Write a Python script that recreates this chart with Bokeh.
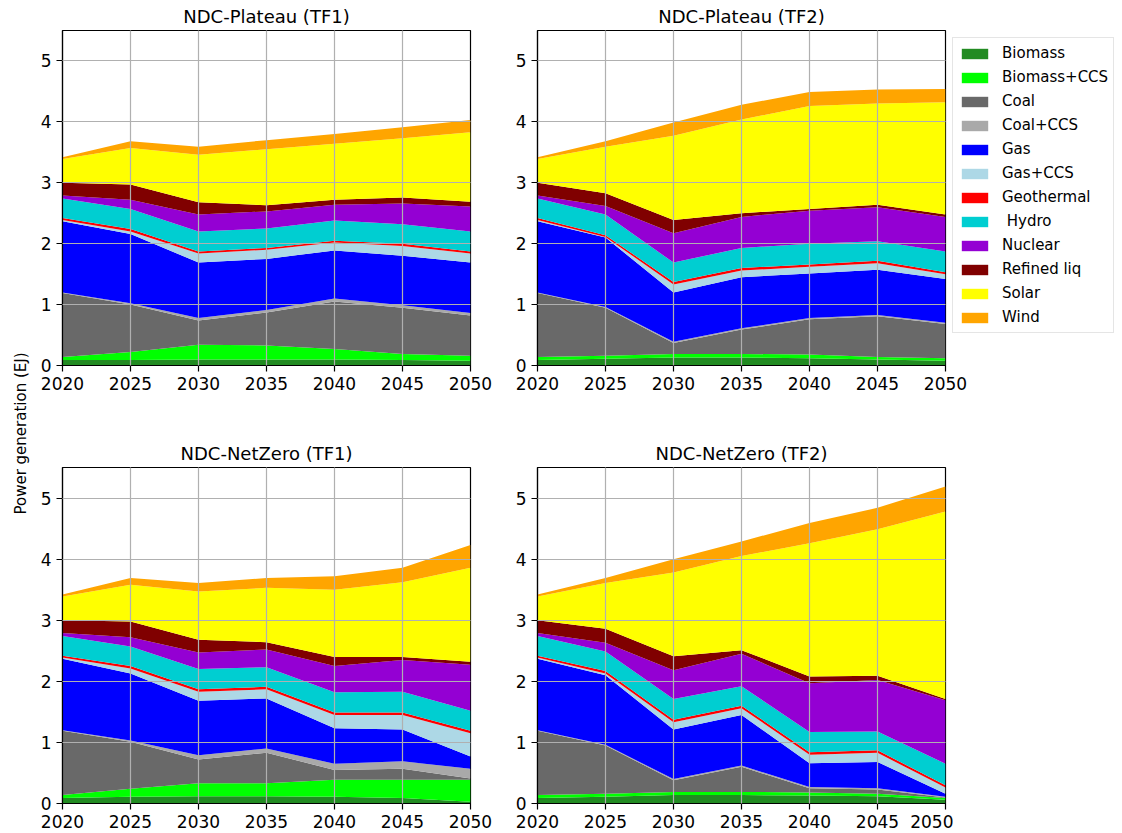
import numpy as np
from bokeh.plotting import figure
from bokeh.layouts import row, column
from bokeh.models import Range1d, Legend, LegendItem, Label
from bokeh.embed import file_html
from bokeh.resources import INLINE

# ---------------- data ----------------
years = [2020, 2025, 2030, 2035, 2040, 2045, 2050]
techs = ["Biomass", "Biomass+CCS", "Coal", "Coal+CCS", "Gas", "Gas+CCS",
         "Geothermal", " Hydro", "Nuclear", "Refined liq", "Solar", "Wind"]
titles = ["NDC-Plateau (TF1)", "NDC-Plateau (TF2)", "NDC-NetZero (TF1)", "NDC-NetZero (TF2)"]

# NDC-Plateau (TF1)
pt1_biomass = [0.09, 0.09, 0.10, 0.10, 0.10, 0.09, 0.08]
pt1_biomass_ccs = [0.05, 0.13, 0.24, 0.23, 0.17, 0.10, 0.08]
pt1_coal = [1.05, 0.78, 0.40, 0.54, 0.78, 0.76, 0.66]
pt1_coal_ccs = [0.01, 0.02, 0.04, 0.04, 0.05, 0.04, 0.04]
pt1_gas = [1.17, 1.14, 0.91, 0.84, 0.79, 0.81, 0.83]
pt1_gas_ccs = [0.02, 0.04, 0.15, 0.15, 0.13, 0.16, 0.15]
pt1_geothermal = [0.03, 0.04, 0.03, 0.03, 0.03, 0.04, 0.03]
pt1_hydro = [0.32, 0.33, 0.33, 0.32, 0.33, 0.32, 0.33]
pt1_nuclear = [0.05, 0.15, 0.28, 0.28, 0.26, 0.34, 0.41]
pt1_refined = [0.21, 0.25, 0.20, 0.10, 0.08, 0.10, 0.08]
pt1_solar = [0.39, 0.60, 0.78, 0.92, 0.92, 0.97, 1.14]
pt1_wind = [0.03, 0.11, 0.13, 0.15, 0.16, 0.18, 0.20]

# NDC-Plateau (TF2)
pt2_biomass = [0.09, 0.11, 0.13, 0.13, 0.12, 0.10, 0.08]
pt2_biomass_ccs = [0.05, 0.05, 0.06, 0.06, 0.06, 0.04, 0.04]
pt2_coal = [1.05, 0.79, 0.18, 0.40, 0.58, 0.67, 0.56]
pt2_coal_ccs = [0.01, 0.01, 0.02, 0.02, 0.02, 0.02, 0.02]
pt2_gas = [1.17, 1.14, 0.81, 0.84, 0.73, 0.74, 0.72]
pt2_gas_ccs = [0.02, 0.01, 0.13, 0.11, 0.11, 0.11, 0.08]
pt2_geothermal = [0.03, 0.03, 0.04, 0.04, 0.04, 0.04, 0.03]
pt2_hydro = [0.32, 0.34, 0.32, 0.33, 0.34, 0.32, 0.34]
pt2_nuclear = [0.05, 0.14, 0.48, 0.51, 0.54, 0.56, 0.57]
pt2_refined = [0.21, 0.21, 0.22, 0.06, 0.03, 0.04, 0.04]
pt2_solar = [0.39, 0.76, 1.38, 1.54, 1.69, 1.66, 1.84]
pt2_wind = [0.03, 0.09, 0.22, 0.24, 0.23, 0.23, 0.22]

# NDC-NetZero (TF1)
nt1_biomass = [0.09, 0.11, 0.12, 0.12, 0.11, 0.09, 0.03]
nt1_biomass_ccs = [0.05, 0.13, 0.21, 0.21, 0.28, 0.30, 0.36]
nt1_coal = [1.05, 0.77, 0.39, 0.50, 0.16, 0.18, 0.02]
nt1_coal_ccs = [0.01, 0.02, 0.07, 0.07, 0.10, 0.12, 0.16]
nt1_gas = [1.17, 1.10, 0.89, 0.82, 0.58, 0.52, 0.20]
nt1_gas_ccs = [0.02, 0.08, 0.15, 0.15, 0.22, 0.24, 0.38]
nt1_geothermal = [0.03, 0.04, 0.04, 0.04, 0.04, 0.04, 0.04]
nt1_hydro = [0.32, 0.32, 0.33, 0.32, 0.33, 0.34, 0.33]
nt1_nuclear = [0.05, 0.15, 0.27, 0.29, 0.43, 0.52, 0.75]
nt1_refined = [0.21, 0.26, 0.21, 0.12, 0.15, 0.05, 0.05]
nt1_solar = [0.39, 0.60, 0.79, 0.89, 1.10, 1.22, 1.54]
nt1_wind = [0.03, 0.11, 0.14, 0.16, 0.22, 0.24, 0.37]

# NDC-NetZero (TF2)
nt2_biomass = [0.09, 0.11, 0.14, 0.14, 0.13, 0.12, 0.06]
nt2_biomass_ccs = [0.05, 0.05, 0.05, 0.05, 0.05, 0.04, 0.03]
nt2_coal = [1.05, 0.79, 0.19, 0.41, 0.07, 0.07, 0.01]
nt2_coal_ccs = [0.01, 0.01, 0.02, 0.02, 0.02, 0.02, 0.01]
nt2_gas = [1.17, 1.14, 0.81, 0.83, 0.39, 0.43, 0.05]
nt2_gas_ccs = [0.02, 0.03, 0.12, 0.11, 0.14, 0.15, 0.10]
nt2_geothermal = [0.03, 0.04, 0.04, 0.04, 0.04, 0.04, 0.04]
nt2_hydro = [0.32, 0.32, 0.34, 0.32, 0.33, 0.31, 0.35]
nt2_nuclear = [0.05, 0.14, 0.47, 0.53, 0.80, 0.84, 1.04]
nt2_refined = [0.21, 0.23, 0.23, 0.06, 0.11, 0.07, 0.02]
nt2_solar = [0.39, 0.75, 1.37, 1.54, 2.18, 2.40, 3.07]
nt2_wind = [0.03, 0.08, 0.22, 0.24, 0.33, 0.35, 0.41]

y_ticks = [0, 1, 2, 3, 4, 5]

# ---------------- styles ----------------
colors = ["#228B22", "#00FF00", "#696969", "#A9A9A9", "#0000FF", "#ADD8E6",
          "#FF0000", "#00CED1", "#9400D3", "#800000", "#FFFF00", "#FFA500"]
FONT = "DejaVu Sans"

scen_series = [
    [pt1_biomass, pt1_biomass_ccs, pt1_coal, pt1_coal_ccs, pt1_gas, pt1_gas_ccs,
     pt1_geothermal, pt1_hydro, pt1_nuclear, pt1_refined, pt1_solar, pt1_wind],
    [pt2_biomass, pt2_biomass_ccs, pt2_coal, pt2_coal_ccs, pt2_gas, pt2_gas_ccs,
     pt2_geothermal, pt2_hydro, pt2_nuclear, pt2_refined, pt2_solar, pt2_wind],
    [nt1_biomass, nt1_biomass_ccs, nt1_coal, nt1_coal_ccs, nt1_gas, nt1_gas_ccs,
     nt1_geothermal, nt1_hydro, nt1_nuclear, nt1_refined, nt1_solar, nt1_wind],
    [nt2_biomass, nt2_biomass_ccs, nt2_coal, nt2_coal_ccs, nt2_gas, nt2_gas_ccs,
     nt2_geothermal, nt2_hydro, nt2_nuclear, nt2_refined, nt2_solar, nt2_wind],
]


def make_panel(title, series, frame_h, b_left, b_right, b_top, b_bottom):
    p = figure(frame_width=408, frame_height=frame_h,
               x_range=Range1d(2020, 2050), y_range=Range1d(0, 5.5),
               output_backend="svg", toolbar_location=None,
               min_border_left=b_left, min_border_right=b_right,
               min_border_top=b_top, min_border_bottom=b_bottom)
    p.title.text = title
    p.title.align = "center"
    p.title.text_font = FONT
    p.title.text_font_size = "18px"
    p.title.text_font_style = "normal"
    p.title.text_color = "black"
    p.title.standoff = 7

    base = np.zeros(len(years))
    renderers = []
    for s, c in zip(series, colors):
        top = base + np.array(s, dtype=float)
        r = p.varea(x=years, y1=base, y2=top, fill_color=c, fill_alpha=1.0)
        renderers.append(r)
        base = top

    p.xaxis.ticker = years
    p.yaxis.ticker = y_ticks
    for ax in (p.xaxis, p.yaxis):
        ax.major_label_text_font = FONT
        ax.major_label_text_font_size = "17px"
        ax.major_label_text_color = "black"
        ax.major_tick_out = 6
        ax.major_tick_in = 0
        ax.major_tick_line_color = "black"
        ax.major_tick_line_width = 1.2
        ax.minor_tick_line_color = None
        ax.axis_line_color = "black"
        ax.axis_line_width = 1.2
        ax.major_label_standoff = 5
    p.grid.grid_line_color = "#b0b0b0"
    p.grid.grid_line_width = 1.2
    p.grid.grid_line_alpha = 1.0
    p.grid.level = "overlay"
    p.outline_line_color = "black"
    p.outline_line_width = 1.2
    p.outline_line_alpha = 1.0
    p.background_fill_color = "white"
    return p, renderers


TOP_B = 30
p1, _ = make_panel(titles[0], scen_series[0], 335, 32, 30, TOP_B, 72)
p2, r2 = make_panel(titles[1], scen_series[1], 335, 37, 0, TOP_B, 72)
p3, _ = make_panel(titles[2], scen_series[2], 336, 32, 30, TOP_B, 30)
p4, _ = make_panel(titles[3], scen_series[3], 336, 37, 8, TOP_B, 30)

items = [LegendItem(label=name, renderers=[r]) for name, r in zip(techs, r2)]
leg = Legend(items=items, location="top_left", margin=7, padding=5, spacing=4,
             label_height=20, glyph_height=13, glyph_width=33, label_standoff=11,
             label_text_font=FONT, label_text_font_size="15px", label_text_color="black",
             border_line_color="#cccccc", border_line_width=1, background_fill_color="white",
             background_fill_alpha=1.0)
p2.add_layout(leg, "right")

TOTAL_H = (TOP_B + 335 + 72) + (TOP_B + 336 + 30)
yl = figure(width=30, height=TOTAL_H, x_range=Range1d(0, 30), y_range=Range1d(0, TOTAL_H),
            output_backend="svg", toolbar_location=None,
            x_axis_location=None, y_axis_location=None,
            min_border_left=0, min_border_right=0, min_border_top=0, min_border_bottom=0)
yl.grid.visible = False
yl.outline_line_color = None
yl.add_layout(Label(x=20, y=TOTAL_H - 433, text="Power generation (EJ)", angle=np.pi / 2,
                    text_align="center", text_baseline="middle", text_font=FONT,
                    text_font_size="15px", text_color="black"))

layout = row(yl, column(row(p1, p2), row(p3, p4)))

open("out.html", "w").write(file_html(layout, INLINE))
